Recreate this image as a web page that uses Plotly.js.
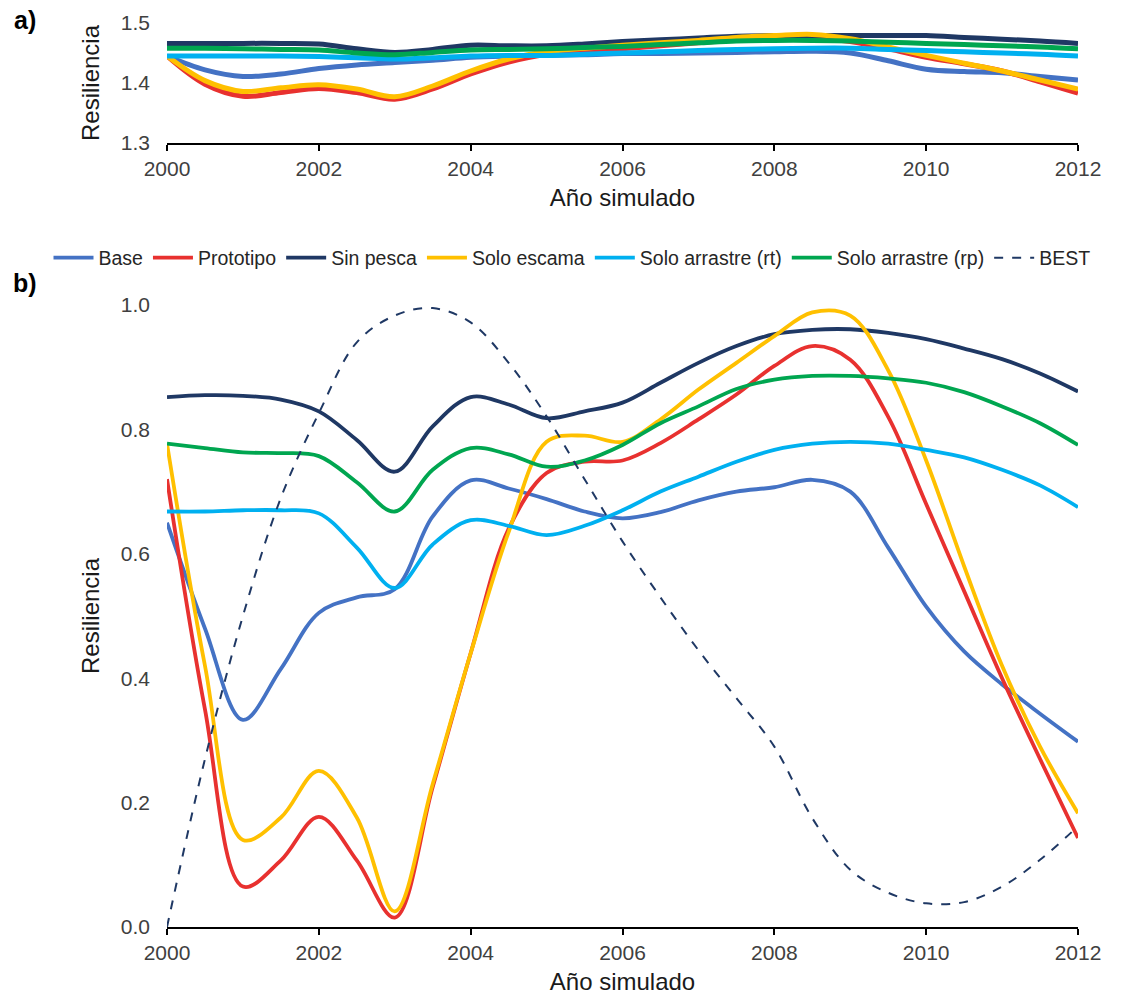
<!DOCTYPE html>
<html>
<head>
<meta charset="utf-8">
<script src="https://cdn.plot.ly/plotly-3.0.1.min.js"></script>
<style>html,body{margin:0;padding:0;background:#fff;}#chart{width:1129px;height:998px;}</style>
</head>
<body>
<div id="chart"></div>
<script>
// Simulated years (half-year resolution)
const years = [2000,2000.5,2001,2001.5,2002,2002.5,2003,2003.5,2004,2004.5,2005,2005.5,2006,2006.5,2007,2007.5,2008,2008.5,2009,2009.5,2010,2010.5,2011,2011.5,2012];

const seriesNames = ["Base","Prototipo","Sin pesca","Solo escama","Solo arrastre (rt)","Solo arrastre (rp)","BEST"];

// Panel a) resilience
const aBase      = [1.445,1.422,1.411,1.415,1.424,1.430,1.434,1.438,1.443,1.445,1.446,1.447,1.449,1.449,1.450,1.451,1.452,1.453,1.450,1.437,1.423,1.419,1.417,1.411,1.405];
const aPrototipo = [1.445,1.398,1.378,1.384,1.391,1.384,1.373,1.390,1.415,1.435,1.448,1.453,1.457,1.462,1.467,1.472,1.477,1.476,1.469,1.457,1.443,1.432,1.420,1.402,1.383];
const aSinPesca  = [1.466,1.466,1.466,1.466,1.465,1.457,1.451,1.456,1.463,1.462,1.462,1.465,1.469,1.472,1.475,1.478,1.479,1.479,1.479,1.479,1.479,1.476,1.473,1.470,1.466];
const aEscama    = [1.445,1.404,1.386,1.392,1.397,1.390,1.377,1.395,1.420,1.440,1.452,1.458,1.463,1.467,1.471,1.476,1.479,1.481,1.474,1.460,1.446,1.433,1.420,1.405,1.390];
const aRt        = [1.445,1.445,1.445,1.445,1.444,1.442,1.440,1.442,1.445,1.446,1.446,1.448,1.450,1.452,1.454,1.456,1.457,1.458,1.458,1.456,1.454,1.452,1.450,1.448,1.445];
const aRp        = [1.458,1.458,1.457,1.456,1.455,1.450,1.447,1.451,1.455,1.456,1.457,1.459,1.461,1.464,1.467,1.470,1.471,1.471,1.470,1.468,1.466,1.464,1.462,1.460,1.457];

// Panel b) resilience
const bBase      = [0.650,0.480,0.333,0.415,0.505,0.530,0.543,0.660,0.718,0.705,0.688,0.668,0.657,0.667,0.686,0.700,0.707,0.719,0.700,0.610,0.515,0.443,0.390,0.343,0.298];
const bPrototipo = [0.720,0.350,0.065,0.107,0.177,0.107,0.015,0.225,0.440,0.640,0.730,0.748,0.750,0.778,0.816,0.856,0.902,0.934,0.912,0.820,0.680,0.540,0.400,0.270,0.143];
const bSinPesca  = [0.852,0.855,0.854,0.848,0.829,0.783,0.732,0.805,0.852,0.840,0.818,0.829,0.843,0.875,0.907,0.934,0.953,0.960,0.961,0.955,0.945,0.930,0.913,0.890,0.861];
const bEscama    = [0.777,0.420,0.140,0.176,0.251,0.176,0.025,0.230,0.440,0.635,0.780,0.790,0.780,0.816,0.864,0.907,0.950,0.988,0.983,0.895,0.750,0.580,0.420,0.290,0.183];
const bRt        = [0.668,0.668,0.670,0.670,0.665,0.610,0.545,0.615,0.654,0.645,0.630,0.645,0.670,0.700,0.724,0.748,0.767,0.777,0.780,0.777,0.767,0.755,0.735,0.710,0.675];
const bRp        = [0.777,0.770,0.763,0.762,0.757,0.715,0.668,0.735,0.770,0.760,0.740,0.750,0.775,0.810,0.837,0.865,0.880,0.886,0.886,0.882,0.875,0.860,0.837,0.810,0.775];
const bBest      = [0.000,0.270,0.500,0.690,0.826,0.940,0.983,0.995,0.972,0.907,0.821,0.720,0.620,0.530,0.445,0.368,0.290,0.175,0.092,0.055,0.038,0.040,0.065,0.108,0.162];

const aTickVals = [1.3,1.4,1.5];
const bTickVals = [0.0,0.2,0.4,0.6,0.8,1.0];
const xTickVals = [2000,2002,2004,2006,2008,2010,2012];

const colors = ["#4472C4","#E8312F","#1F3864","#FFC000","#00B0F0","#00A650","#1F3864"];

const aSeries = [aBase,aPrototipo,aSinPesca,aEscama,aRt,aRp];
const bSeries = [bBase,bPrototipo,bSinPesca,bEscama,bRt,bRp,bBest];

const traces = [];
aSeries.forEach((ys,i)=>{
  traces.push({x:years,y:ys,type:'scatter',mode:'lines',name:seriesNames[i],
    xaxis:'x',yaxis:'y',showlegend:false,hoverinfo:'skip',
    line:{color:colors[i],width:5,shape:'spline',smoothing:1}});
});
bSeries.forEach((ys,i)=>{
  const isBest = i===6;
  traces.push({x:years,y:ys,type:'scatter',mode:'lines',name:seriesNames[i],
    xaxis:'x2',yaxis:'y2',showlegend:true,
    line:{color:colors[i],width:isBest?2:3.8,shape:'spline',smoothing:1,dash:isBest?'dash':'solid'}});
});

// Full-canvas paper; plot areas placed through axis domains (pixel -> fraction)
const W=1129,H=998;
const fx = px => px/W;
const fy = px => (H-px)/H;
const plotL=167, plotR=1078;

const tickFont = {family:'"Liberation Sans", Arial, sans-serif', size:21, color:'#404040'};
const titleFont = {family:'"Liberation Sans", Arial, sans-serif', size:24, color:'#1a1a1a'};

const xCommon = {range:[2000,2012],tickvals:xTickVals,ticktext:xTickVals.map(String),
  showline:true,linecolor:'#000',linewidth:2,ticks:'outside',ticklen:6,tickwidth:2,tickcolor:'#000',
  showgrid:false,zeroline:false,tickfont:tickFont,automargin:false,
  title:{text:'Año simulado',font:titleFont,standoff:10}};

const yCommon = {showline:false,showgrid:false,zeroline:false,ticks:'',tickfont:tickFont,ticklabelstandoff:16,automargin:false,
  title:{text:'Resiliencia',font:titleFont,standoff:14}};

const layout = {
  width:W,height:H,
  margin:{l:0,r:0,t:0,b:0},
  paper_bgcolor:'#fff',plot_bgcolor:'#fff',
  xaxis:Object.assign({},xCommon,{domain:[fx(plotL),fx(plotR)],anchor:'y'}),
  yaxis:Object.assign({},yCommon,{domain:[fy(143),fy(23)],range:[1.3,1.5],tickvals:aTickVals,ticktext:aTickVals.map(v=>v.toFixed(1)),anchor:'x'}),
  xaxis2:Object.assign({},xCommon,{domain:[fx(plotL),fx(plotR)],anchor:'y2'}),
  yaxis2:Object.assign({},yCommon,{domain:[fy(927),fy(305)],range:[0,1.0],tickvals:bTickVals,ticktext:bTickVals.map(v=>v.toFixed(1)),anchor:'x2'}),
  legend:{orientation:'h',x:fx(572),xanchor:'center',y:fy(258),yanchor:'middle',
    font:{family:'"Liberation Sans", Arial, sans-serif',size:19.5,color:'#262626'},
    itemwidth:40,tracegroupgap:0,bgcolor:'rgba(0,0,0,0)'},
  annotations:[
    {text:'<b>a)</b>',xref:'paper',yref:'paper',x:fx(25),y:fy(20),xanchor:'center',yanchor:'middle',showarrow:false,
     font:{family:'"Liberation Sans", Arial, sans-serif',size:25,color:'#000'}},
    {text:'<b>b)</b>',xref:'paper',yref:'paper',x:fx(25),y:fy(283),xanchor:'center',yanchor:'middle',showarrow:false,
     font:{family:'"Liberation Sans", Arial, sans-serif',size:25,color:'#000'}}
  ]
};

Plotly.newPlot('chart',traces,layout,{displayModeBar:false,staticPlot:true});
</script>
</body>
</html>
